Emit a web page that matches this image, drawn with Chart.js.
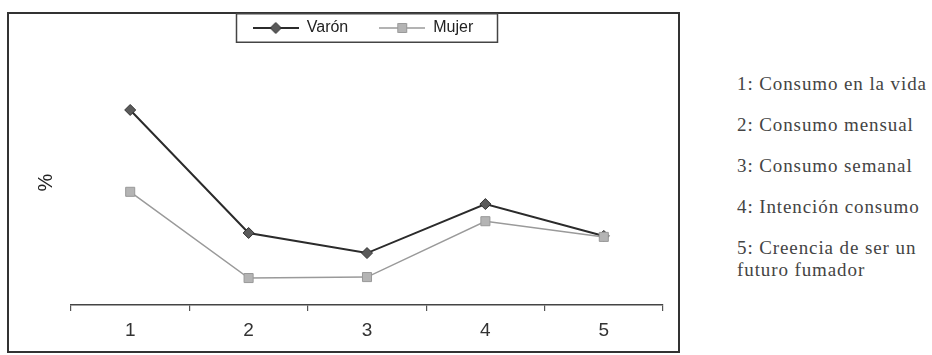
<!DOCTYPE html>
<html>
<head>
<meta charset="utf-8">
<script src="https://cdn.jsdelivr.net/npm/chart.js@4/dist/chart.umd.min.js"></script>
<style>
    body { margin: 0; background: #fff; width: 932px; height: 355px; overflow: hidden; position: relative; }
    #frame { position: absolute; left: 7px; top: 12px; width: 673px; height: 341px; box-sizing: border-box; border: 2px solid #333; }
    #chartBox { position: absolute; left: 8px; top: 13px; width: 671px; height: 339px; }
    #notes { position: absolute; left: 737px; top: 0; font-family: "Liberation Serif", "Times New Roman", serif; font-size: 19px; letter-spacing: 0.9px; color: #444; }
    #notes div { position: absolute; left: 0; white-space: nowrap; line-height: 22px; }
</style>
</head>
<body>
<div id="frame"></div>
<div id="chartBox"><canvas id="lineChart" width="671" height="339"></canvas></div>
<div id="notes"></div>
<script>
// values (no y scale printed, 0..50 assumed)
var categories = ['1', '2', '3', '4', '5'];
var varonValues = [39.8, 14.7, 10.6, 20.6, 14.1];
var mujerValues = [23.1, 5.5, 5.7, 17.1, 13.9];
var seriesNames = ['Varón', 'Mujer'];
var notes = [
    '1: Consumo en la vida',
    '2: Consumo mensual',
    '3: Consumo semanal',
    '4: Intención consumo',
    '5: Creencia de ser un<br>futuro fumador'
];
var noteCenters = [84, 125, 166, 207, 248];

// legend sample: line with the marker in the middle, like the original
function legendMarker(lineColor, lineWidth, fill, shape) {
    var c = document.createElement('canvas');
    c.width = 46;
    c.height = 14;
    var g = c.getContext('2d');
    g.strokeStyle = lineColor;
    g.lineWidth = lineWidth;
    g.beginPath();
    g.moveTo(0, 7);
    g.lineTo(46, 7);
    g.stroke();
    g.fillStyle = fill;
    g.lineWidth = 1;
    g.beginPath();
    if (shape === 'diamond') {
        g.moveTo(23, 1.5); g.lineTo(28.5, 7); g.lineTo(23, 12.5); g.lineTo(17.5, 7);
    } else {
        g.rect(18.5, 2.5, 9, 9);
    }
    g.closePath();
    g.fill();
    g.stroke();
    return c;
}

var markers = [
    legendMarker('#2b2b2b', 2, '#5a5a5a', 'diamond'),
    legendMarker('#9a9a9a', 1.5, '#b4b4b4', 'square')
];

var legendFrame = {
    id: 'legendFrame',
    beforeDraw: function(chart) {
        var l = chart.legend;
        l.left = 200;
        l.right = 510;
        l.top = -24;
    },
    afterDraw: function(chart) {
        var ctx = chart.ctx;
        ctx.save();
        ctx.strokeStyle = '#444';
        ctx.lineWidth = 1.5;
        ctx.strokeRect(228.5, 0.75, 261, 28.5);
        ctx.restore();
    }
};

var notesBox = document.getElementById('notes');
notes.forEach(function(text, i) {
    var d = document.createElement('div');
    d.innerHTML = text;
    d.style.top = (noteCenters[i] - 11) + 'px';
    notesBox.appendChild(d);
});

var ctx = document.getElementById('lineChart').getContext('2d');
var lineChart = new Chart(ctx, {
    type: 'line',
    data: {
        labels: categories,
        datasets: [{
            label: seriesNames[0],
            data: varonValues,
            borderColor: '#2b2b2b',
            borderWidth: 2,
            backgroundColor: '#5a5a5a',
            pointStyle: 'rectRot',
            pointRadius: 5.5,
            pointBorderColor: '#333',
            pointBorderWidth: 1,
            order: 1
        }, {
            label: seriesNames[1],
            data: mujerValues,
            borderColor: '#9a9a9a',
            borderWidth: 1.5,
            backgroundColor: '#b4b4b4',
            pointStyle: 'rect',
            pointRadius: 6.4,
            pointBorderColor: '#999',
            pointBorderWidth: 1,
            order: 0
        }]
    },
    options: {
        responsive: false,
        animation: false,
        devicePixelRatio: 1,
        layout: {
            padding: { top: 11, right: 16, left: 0, bottom: 0 }
        },
        plugins: {
            tooltip: { enabled: false },
            legend: {
                position: 'top',
                maxHeight: 36,
                labels: {
                    usePointStyle: true,
                    pointStyleWidth: 46,
                    padding: 31,
                    color: '#222',
                    font: { family: 'Liberation Sans, Arial, sans-serif', size: 16 },
                    sort: function(a, b) { return a.datasetIndex - b.datasetIndex; },
                    generateLabels: function(chart) {
                        var items = Chart.defaults.plugins.legend.labels.generateLabels(chart);
                        items.forEach(function(item) {
                            item.pointStyle = markers[item.datasetIndex];
                        });
                        return items;
                    }
                }
            }
        },
        scales: {
            x: {
                offset: true,
                grid: {
                    offset: true,
                    drawOnChartArea: false,
                    drawTicks: true,
                    tickLength: 6,
                    color: '#555',
                    lineWidth: 1.2
                },
                border: { display: true, color: '#444', width: 1.5 },
                ticks: {
                    padding: 8,
                    color: '#333',
                    font: { family: 'Liberation Sans, Arial, sans-serif', size: 19 }
                },
                afterFit: function(scale) { scale.height = 47; }
            },
            y: {
                min: 0,
                max: 50,
                grid: { display: false },
                border: { display: false },
                ticks: { display: false },
                title: {
                    display: true,
                    text: '%',
                    color: '#222',
                    padding: { top: 26, bottom: 0 },
                    font: { family: 'Liberation Sans, Arial, sans-serif', size: 20 }
                },
                afterFit: function(scale) { scale.width = 63; }
            }
        }
    },
    plugins: [legendFrame]
});
</script>
</body>
</html>
